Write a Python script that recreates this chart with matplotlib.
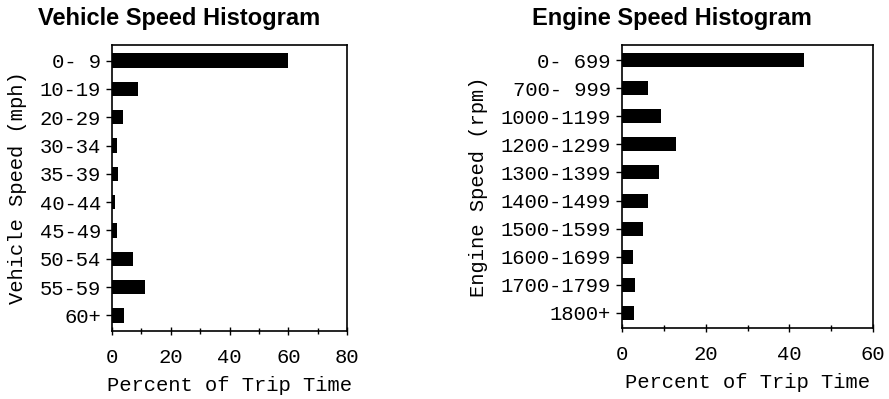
import numpy as np
import matplotlib
matplotlib.use("Agg")
import matplotlib.pyplot as plt
from matplotlib.ticker import MultipleLocator

# vehicle speed histogram
veh_bins = ["0- 9", "10-19", "20-29", "30-34", "35-39",
            "40-44", "45-49", "50-54", "55-59", "60+"]
veh_pct = [60.0, 8.9, 3.6, 1.6, 2.0, 1.1, 1.6, 7.1, 11.3, 4.2]

# engine speed histogram
eng_bins = ["0- 699", "700- 999", "1000-1199", "1200-1299", "1300-1399",
            "1400-1499", "1500-1599", "1600-1699", "1700-1799", "1800+"]
eng_pct = [43.5, 6.2, 9.3, 12.9, 8.9, 6.1, 4.95, 2.6, 3.2, 2.8]

mono = "Liberation Mono"
fs = 14.8

fig = plt.figure(figsize=(8.89, 3.99), dpi=100)
W, H = 889.0, 399.0


def hist_panel(rect, names, vals, xmax, ylab):
    l, t, r, b = rect
    ax = fig.add_axes([l / W, 1 - b / H, (r - l) / W, (b - t) / H])
    y = np.arange(len(names))
    ax.barh(y, vals, height=0.5, color="black")
    ax.set_ylim(len(names) - 0.45, -0.55)
    ax.set_xlim(0, xmax)
    ax.set_yticks(y)
    ax.set_yticklabels(names, fontfamily=mono, fontsize=fs)
    ax.xaxis.set_major_locator(MultipleLocator(20))
    ax.xaxis.set_minor_locator(MultipleLocator(10))
    for lab in ax.get_xticklabels():
        lab.set_fontfamily(mono)
        lab.set_fontsize(fs)
    ax.tick_params(axis="x", which="major", direction="inout", length=6, width=1, pad=9)
    ax.tick_params(axis="x", which="minor", direction="inout", length=4, width=1)
    ax.tick_params(axis="y", direction="out", length=4, width=1, pad=4)
    ax.set_xlabel("Percent of Trip Time", fontfamily=mono, fontsize=fs, labelpad=7)
    ax.set_ylabel(ylab, fontfamily=mono, fontsize=fs, labelpad=9)
    for s in ax.spines.values():
        s.set_linewidth(1.2)
    return ax


hist_panel((112, 45, 347, 331), veh_bins, veh_pct, 80, "Vehicle Speed (mph)")
hist_panel((622, 45, 873, 328), eng_bins, eng_pct, 60, "Engine Speed (rpm)")

fig.text(179 / W, 1 - 19 / H, "Vehicle Speed Histogram", ha="center", va="center",
         fontfamily="Liberation Sans", fontweight="bold", fontsize=17)
fig.text(672 / W, 1 - 19 / H, "Engine Speed Histogram", ha="center", va="center",
         fontfamily="Liberation Sans", fontweight="bold", fontsize=17)

fig.savefig("out.png", dpi=100)
